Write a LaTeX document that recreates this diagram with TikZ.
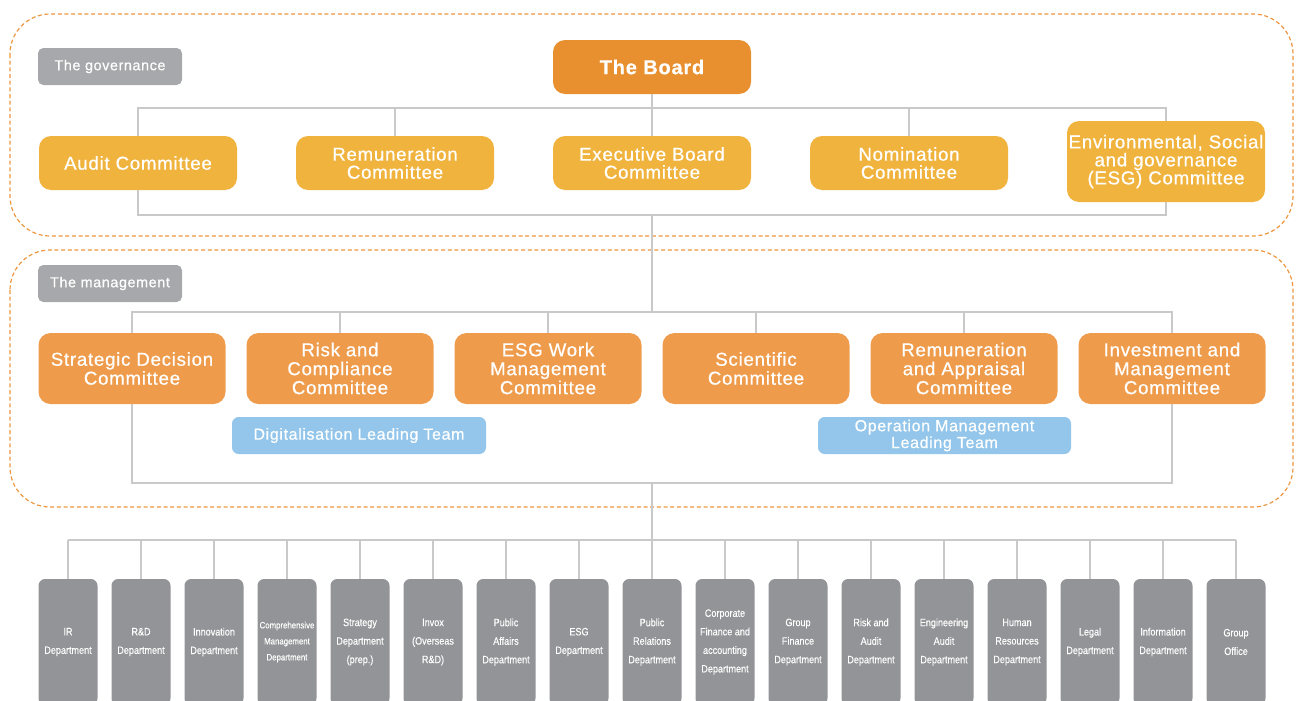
\documentclass[tikz,border=0pt]{standalone}
\usepackage{fontspec}
\setmainfont{Liberation Sans}
\newfontfamily\boxfont[LetterSpace=4, FakeBold=0.6]{Liberation Sans}
\newfontfamily\deptfont[FakeStretch=0.85, FakeBold=0.3]{Liberation Sans}

\definecolor{boardorange}{HTML}{E8902F}
\definecolor{govyellow}{HTML}{F0B43E}
\definecolor{mgmtorange}{HTML}{EE9C4C}
\definecolor{teamblue}{HTML}{93C6EA}
\definecolor{taggrey}{HTML}{A7A8AB}
\definecolor{deptgrey}{HTML}{939497}
\definecolor{zoneorange}{HTML}{EC963F}
\definecolor{linegrey}{HTML}{C9C9C9}

\tikzset{
    conn/.style={draw=linegrey, line width=1.1pt},
    zone/.style={draw=zoneorange, line width=0.9pt, dash pattern=on 3pt off 2pt, rounded corners=30pt},
    tag/.style={fill=taggrey, rounded corners=4pt, minimum width=108pt, minimum height=27.75pt,
        inner sep=0pt, text=white, font=\boxfont\fontsize{10.8}{12}\selectfont},
    govbox/.style={fill=govyellow, rounded corners=9pt, minimum width=148.5pt, minimum height=40.5pt,
        inner sep=0pt, text=white, align=center, font=\boxfont\fontsize{14}{13.5}\selectfont},
    mgmtbox/.style={fill=mgmtorange, rounded corners=9pt, minimum width=140.25pt, minimum height=53.25pt,
        inner sep=0pt, text=white, align=center, font=\boxfont\fontsize{14}{14.2}\selectfont},
    teambox/.style={fill=teamblue, rounded corners=5pt, minimum height=27.75pt,
        inner sep=0pt, text=white, align=center, font=\boxfont\fontsize{12}{12.6}\selectfont},
    dept/.style={fill=deptgrey, rounded corners=5pt, minimum width=44.25pt, minimum height=94.5pt,
        inner sep=0pt, text=white, align=center, font=\deptfont\fontsize{8}{13.9}\selectfont},
    deptsmall/.style={dept, font=\deptfont\fontsize{6.9}{12}\selectfont}
}

\begin{document}
\begin{tikzpicture}[x=0.75pt, y=-0.75pt]
    \useasboundingbox (0,0) rectangle (1296,700);

    % zones
    \draw [zone] (10,14) rectangle (1293,236);
    \draw [zone] (10,250) rectangle (1293,507);

    \node [tag] (govtag) at (110,66.5) {The governance};
    \node [tag] (mgmttag) at (110,283.5) {The management};

    % The governance
    \node [govbox, fill=boardorange, font=\boxfont\bfseries\fontsize{15}{15}\selectfont] (board) at (652,67) {The Board};

    \node [govbox] (aud) at (138,163) {Audit Committee};
    \node [govbox] (rem) at (395,163) {Remuneration\\Committee};
    \node [govbox] (exe) at (652,163) {Executive Board\\Committee};
    \node [govbox] (nom) at (909,163) {Nomination\\Committee};
    \node [govbox, minimum height=60.75pt] (esg) at (1166,161.5) {Environmental, Social\\and governance\\(ESG) Committee};

    \coordinate (govbus) at (652,108);
    \coordinate (govlow) at (652,215);
    \coordinate (mgmtbus) at (652,312);
    \coordinate (mgmtlow) at (652,483);
    \coordinate (deptbus) at (652,540);

    \draw [conn] (board.south) -- (govbus);
    \draw [conn] (aud.north) |- (govbus) -| (esg.north);
    \foreach \c in {rem, exe, nom}
        \draw [conn] (\c.north) -- (\c.north |- govbus);
    \draw [conn] (aud.south) |- (govlow) -| (esg.south);
    \draw [conn] (govlow) -- (mgmtbus);

    % The management
    \node [mgmtbox] (sdc) at (132,368.5) {Strategic Decision\\Committee};
    \node [mgmtbox] (rcc) at (340,368.5) {Risk and\\Compliance\\Committee};
    \node [mgmtbox] (ewm) at (548,368.5) {ESG Work\\Management\\Committee};
    \node [mgmtbox] (sci) at (756,368.5) {Scientific\\Committee};
    \node [mgmtbox] (raa) at (964,368.5) {Remuneration\\and Appraisal\\Committee};
    \node [mgmtbox] (imc) at (1172,368.5) {Investment and\\Management\\Committee};

    \draw [conn] (sdc.north) |- (mgmtbus) -| (imc.north);
    \foreach \c in {rcc, ewm, sci, raa}
        \draw [conn] (\c.north) -- (\c.north |- mgmtbus);
    \draw [conn] (sdc.south) |- (mgmtlow) -| (imc.south);
    \draw [conn] (mgmtlow) -- (deptbus);

    \node [teambox, minimum width=190.5pt] (dlt) at (359,435.5) {Digitalisation Leading Team};
    \node [teambox, minimum width=189.75pt] (omt) at (944.5,435.5) {Operation Management\\Leading Team};

    % Departments
    \foreach \i/\dname/\dstyle in {
        1/{IR\\Department}/dept,
        2/{R\&D\\Department}/dept,
        3/{Innovation\\Department}/dept,
        4/{Comprehensive\\Management\\Department}/deptsmall,
        5/{Strategy\\Department\\(prep.)}/dept,
        6/{Invox\\(Overseas\\R\&D)}/dept,
        7/{Public\\Affairs\\Department}/dept,
        8/{ESG\\Department}/dept,
        9/{Public\\Relations\\Department}/dept,
        10/{Corporate\\Finance and\\accounting\\Department}/dept,
        11/{Group\\Finance\\Department}/dept,
        12/{Risk and\\Audit\\Department}/dept,
        13/{Engineering\\Audit\\Department}/dept,
        14/{Human\\Resources\\Department}/dept,
        15/{Legal\\Department}/dept,
        16/{Information\\Department}/dept,
        17/{Group\\Office}/dept}{
        \node [\dstyle] (d\i) at (68+73*\i-73,642) {\dname};
        \draw [conn] (d\i.north) -- (d\i.north |- deptbus);
    }
    \draw [conn] (d1.north |- deptbus) -- (d17.north |- deptbus);
\end{tikzpicture}
\end{document}
